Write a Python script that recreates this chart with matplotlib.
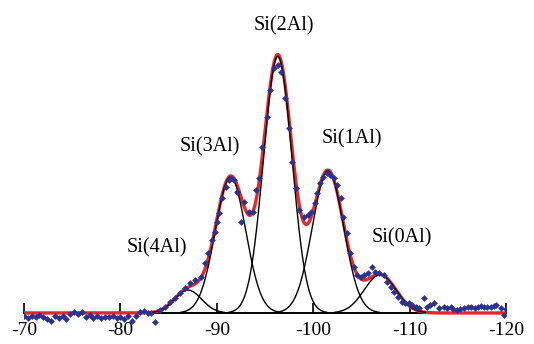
import matplotlib
matplotlib.use('Agg')
import matplotlib.pyplot as plt
import numpy as np

plt.rcParams['font.family'] = ['Liberation Serif', 'DejaVu Serif']
plt.rcParams['axes.unicode_minus'] = False

# measured spectrum (ppm, intensity)
ppm = [-70.0, -70.4, -70.8, -71.2, -71.6, -72.0, -72.4, -72.8, -73.2, -73.6,
       -74.0, -74.4, -74.8, -75.2, -75.6, -76.0, -76.4, -76.8, -77.2, -77.6,
       -78.0, -78.4, -78.8, -79.2, -79.6, -80.0, -80.4, -80.8, -81.2, -81.6,
       -82.0, -82.4, -82.8, -83.2, -83.6, -84.1, -84.6, -85.1, -85.7, -86.2,
       -86.7, -87.2, -87.7, -88.3, -88.8, -89.1, -89.5, -89.8, -90.0, -90.2,
       -90.5, -90.9, -91.2, -91.5, -91.8, -92.1, -92.5, -92.8, -93.3, -93.7,
       -94.0, -94.4, -94.7, -95.2, -95.5, -95.9, -96.3, -96.6, -97.0, -97.5,
       -97.8, -98.2, -98.5, -99.0, -99.4, -99.7, -100.2, -100.4, -100.7, -101.0,
       -101.4, -101.7, -102.1, -102.4, -102.8, -103.1, -103.5, -103.8, -104.2, -104.5,
       -104.9, -105.2, -105.7, -106.1, -106.4, -106.8, -107.3, -107.6, -108.0, -108.3,
       -108.8, -109.2, -109.5, -109.9, -110.2, -110.6, -110.9, -111.4, -111.8, -112.1,
       -112.5, -113.0, -113.5, -113.8, -114.2, -114.5, -114.9, -115.2, -115.6, -116.0,
       -116.3, -116.7, -117.0, -117.4, -117.7, -118.0, -118.4, -118.7, -118.9, -119.4,
       -119.7, -120.0, -120.2, -120.5]
intensity = [-1.2, -1.8, -1.0, -1.5, -0.8, -1.6, -2.2, -3.3, -1.2, -1.9,
             -1.0, -2.4, -0.6, 0.4, -0.3, 0.2, -1.5, -0.9, -1.8, -1.3,
             -2.0, -1.4, -1.7, -1.0, -1.9, -1.5, -2.3, -1.2, -3.2, -1.0,
             0.3, 0.6, -0.2, 0.1, -3.5, 1.2, 2.5, 4.4, 5.8, 7.7,
             9.7, 11.7, 13.0, 14.3, 19.6, 23.5, 28.7, 32.0, 35.9, 39.2,
             45.2, 49.7, 52.4, 53.0, 52.4, 47.8, 35.9, 43.8, 39.9, 39.9,
             48.4, 53.0, 65.5, 77.3, 87.8, 96.3, 97.6, 95.0, 84.5, 72.7,
             59.6, 49.1, 40.6, 37.9, 38.6, 39.9, 43.2, 47.1, 51.1, 53.7,
             55.0, 54.3, 53.0, 50.4, 45.2, 37.9, 31.4, 23.5, 18.2, 15.0,
             14.3, 15.0, 15.6, 18.2, 16.3, 15.6, 15.0, 12.3, 10.4, 8.4,
             6.4, 4.4, 4.1, 3.8, 3.1, 2.5, 1.8, 5.8, 2.5, 3.1,
             3.8, 1.8, 2.2, 2.0, 2.5, 1.5, 1.2, 1.6, 1.8, 2.3,
             2.2, 2.0, 2.2, 2.6, 2.5, 2.3, 2.5, 2.8, 3.1, 1.8,
             -0.8, 1.5, 1.8, 0.5]

# fitted components
labels = ['Si(4Al)', 'Si(3Al)', 'Si(2Al)', 'Si(1Al)', 'Si(0Al)']
centers = [-87.0, -91.4, -96.3, -101.5, -106.9]
heights = [9.0, 53.5, 101.0, 56.0, 15.0]
widths = [1.4, 1.58, 1.47, 1.62, 1.65]

tick_pos = [-70, -80, -90, -100, -110, -120]
tick_labels = ['-70', '-80', '-90', '-100', '-110', '-120']


def gauss(x, c, h, s):
    return h * np.exp(-(x - c) ** 2 / (2 * s ** 2))


fig = plt.figure(figsize=(5.34, 3.44), dpi=100)
ax = fig.add_axes([0.0449, 0.0459, 0.9036, 0.954])

x = np.linspace(-70, -120, 1500)
total = np.zeros_like(x)
for c, h, s in zip(centers, heights, widths):
    total += gauss(x, c, h, s)

ax.plot(x, total, color='#e8262b', lw=2.4, zorder=3)
for c, h, s in zip(centers, heights, widths):
    g = gauss(x, c, h, s)
    g = np.where(g > 0.25, g, np.nan)
    ax.plot(x, g, color='black', lw=1.0, zorder=4)

ax.scatter(ppm, intensity, marker='D', s=12, color='#2e3192', lw=0, zorder=5)

# peak labels
label_pos = [(-83.8, 25.6), (-89.3, 65.3), (-96.9, 113.0), (-104.0, 68.7), (-109.2, 29.7)]
for lab, (lx, ly) in zip(labels, label_pos):
    ax.text(lx, ly, lab, fontsize=14.5, ha='center', va='center')

ax.set_xlim(-70, -120)
ax.set_ylim(-6, 123.2)
ax.spines['left'].set_visible(False)
ax.spines['right'].set_visible(False)
ax.spines['top'].set_visible(False)
ax.spines['bottom'].set_position(('data', 0))
ax.spines['bottom'].set_linewidth(1.4)
ax.set_yticks([])
ax.set_xticks(tick_pos)
ax.set_xticklabels(tick_labels, fontsize=14)
ax.tick_params(axis='x', direction='in', length=7, width=1.2, pad=6.5)
ax.patch.set_visible(False)

fig.savefig('out.png', dpi=100)
